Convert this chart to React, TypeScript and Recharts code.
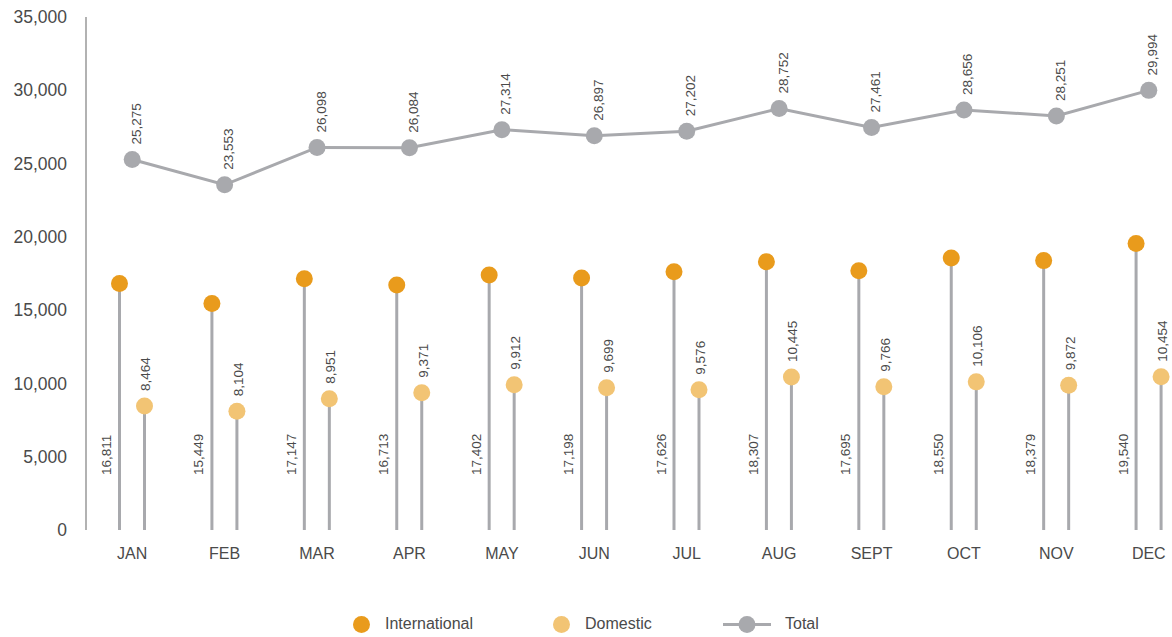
import { ComposedChart, Bar, Line, XAxis, YAxis, LabelList, Legend } from 'recharts';

const months = ['JAN', 'FEB', 'MAR', 'APR', 'MAY', 'JUN', 'JUL', 'AUG', 'SEPT', 'OCT', 'NOV', 'DEC'];
const international = [16811, 15449, 17147, 16713, 17402, 17198, 17626, 18307, 17695, 18550, 18379, 19540];
const domestic = [8464, 8104, 8951, 9371, 9912, 9699, 9576, 10445, 9766, 10106, 9872, 10454];
const total = [25275, 23553, 26098, 26084, 27314, 26897, 27202, 28752, 27461, 28656, 28251, 29994];
const yTicks = [0, 5000, 10000, 15000, 20000, 25000, 30000, 35000];

const ORANGE = '#E99B1C';
const LIGHT = '#F2C474';
const GREY = '#A8A9AD';
const TEXT = '#4a4a4a';
const FONT = '"Liberation Sans", Arial, Helvetica, sans-serif';

const data = months.map((m, i) => ({
  month: m,
  international: international[i],
  domestic: domestic[i],
  total: total[i],
}));

const fmt = (v: number) => Number(v).toLocaleString('en-US');

// stem from the base up to the value, with a dot on top
const lollipop = (color: string) => (props: any) => {
  const { x, y, width, height } = props;
  const cx = x + width / 2;
  return (
    <g>
      <line x1={cx} x2={cx} y1={y} y2={y + height} stroke={GREY} strokeWidth={3} />
      <circle cx={cx} cy={y} r={8.5} fill={color} />
    </g>
  );
};

const RotLabel = ({ x, y, value }: { x: number; y: number; value: any }) => (
  <text
    x={x}
    y={y}
    transform={`rotate(-90 ${x} ${y})`}
    textAnchor="start"
    dominantBaseline="central"
    fontSize={13.5}
    fill={TEXT}
    fontFamily={FONT}
  >
    {fmt(value)}
  </text>
);

const intlLabel = (props: any) => {
  const { x, y, width, height, value } = props;
  return <RotLabel x={x + width / 2 - 13} y={y + height - 55} value={value} />;
};

const domLabel = (props: any) => {
  const { x, y, width, value } = props;
  return <RotLabel x={x + width / 2 + 1.5} y={y - 15} value={value} />;
};

const totalLabel = (props: any) => {
  const { x, y, value } = props;
  return <RotLabel x={x + 4} y={y - 15} value={value} />;
};

const LegendContent = () => (
  <div style={{ position: 'relative', height: 24, fontFamily: FONT, fontSize: 16, color: TEXT }}>
    <div style={{ position: 'absolute', left: 353, top: 3, display: 'flex', alignItems: 'center' }}>
      <span style={{ width: 17, height: 17, borderRadius: '50%', background: ORANGE, display: 'inline-block' }} />
      <span style={{ marginLeft: 15 }}>International</span>
    </div>
    <div style={{ position: 'absolute', left: 553, top: 3, display: 'flex', alignItems: 'center' }}>
      <span style={{ width: 17, height: 17, borderRadius: '50%', background: LIGHT, display: 'inline-block' }} />
      <span style={{ marginLeft: 15 }}>Domestic</span>
    </div>
    <div style={{ position: 'absolute', left: 723, top: 3, display: 'flex', alignItems: 'center' }}>
      <svg width={48} height={17}>
        <line x1={0} x2={48} y1={8.5} y2={8.5} stroke={GREY} strokeWidth={3} />
        <circle cx={24} cy={8.5} r={8.5} fill={GREY} />
      </svg>
      <span style={{ marginLeft: 14 }}>Total</span>
    </div>
  </div>
);

export default function App() {
  return (
    <div style={{ position: 'absolute', left: 0, top: 0, width: 1172, height: 637, overflow: 'hidden', background: '#fff' }}>
      <ComposedChart
        width={1200}
        height={637}
        data={data}
        margin={{ top: 17, right: 5, left: 0, bottom: 77 }}
        barGap={22}
        style={{ fontFamily: FONT }}
      >
        <XAxis
          dataKey="month"
          axisLine={false}
          tickLine={false}
          tickMargin={12}
          height={30}
          tick={{ fontSize: 16, fill: TEXT, fontFamily: FONT }}
          interval={0}
        />
        <YAxis
          domain={[0, 35000]}
          ticks={yTicks}
          interval={0}
          width={86}
          tickLine={false}
          tickMargin={13}
          axisLine={{ stroke: '#999', strokeWidth: 1.5 }}
          tickFormatter={fmt}
          tick={{ fontSize: 17.5, fill: TEXT, fontFamily: FONT }}
        />
        <Legend verticalAlign="middle" align="center" layout="horizontal" content={LegendContent}
          wrapperStyle={{ top: 612, left: 0, width: 1172 }} />
        <Bar dataKey="international" name="International" fill={ORANGE} barSize={3}
          shape={lollipop(ORANGE)} isAnimationActive={false}>
          <LabelList dataKey="international" content={intlLabel} />
        </Bar>
        <Bar dataKey="domestic" name="Domestic" fill={LIGHT} barSize={3}
          shape={lollipop(LIGHT)} isAnimationActive={false}>
          <LabelList dataKey="domestic" content={domLabel} />
        </Bar>
        <Line dataKey="total" name="Total" stroke={GREY} strokeWidth={3}
          dot={{ r: 8.5, fill: GREY, stroke: 'none' }} activeDot={false} isAnimationActive={false}>
          <LabelList dataKey="total" content={totalLabel} />
        </Line>
      </ComposedChart>
    </div>
  );
}
